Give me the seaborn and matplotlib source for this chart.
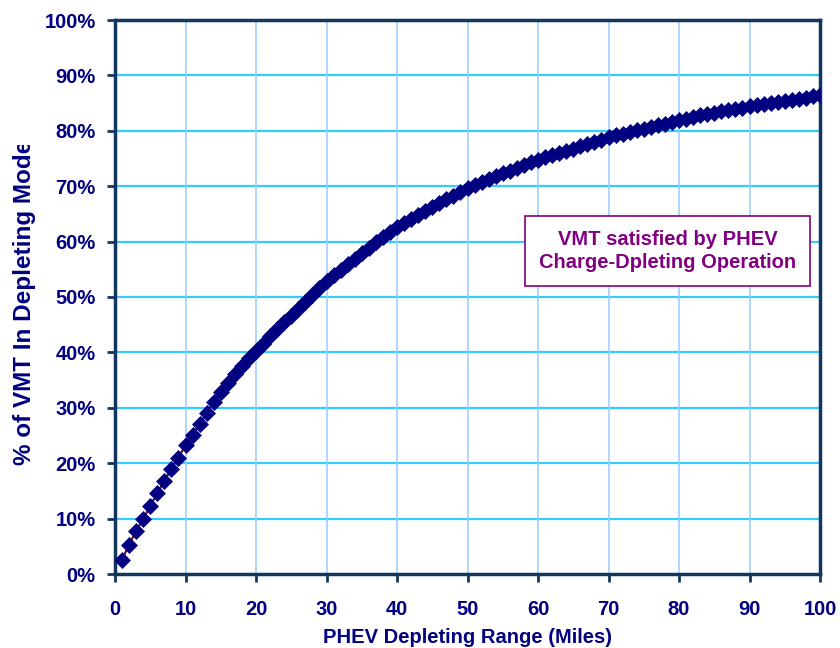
import matplotlib
matplotlib.use("Agg")
import matplotlib.pyplot as plt
import seaborn as sns
import numpy as np
import pandas as pd
from matplotlib.transforms import Bbox

# data: depleting range (miles) vs % of VMT
miles = list(range(1, 101))
vmt_pct = [
    2.6, 5.3, 7.8, 9.9, 12.3, 14.6, 16.8, 19.0, 21.0, 23.3,
    25.1, 27.1, 29.1, 31.0, 32.8, 34.5, 36.1, 37.6, 38.9, 40.2,
    41.6, 43.0, 44.2, 45.4, 46.6, 47.9, 49.1, 50.3, 51.6, 52.9,
    53.9, 54.9, 55.9, 56.9, 57.9, 58.9, 59.9, 60.9, 61.8, 62.7,
    63.4, 64.1, 64.8, 65.5, 66.2, 66.9, 67.6, 68.3, 69.0, 69.7,
    70.3, 70.8, 71.3, 71.8, 72.3, 72.8, 73.3, 73.8, 74.3, 74.8,
    75.2, 75.6, 76.0, 76.4, 76.8, 77.2, 77.6, 78.0, 78.4, 78.8,
    79.2, 79.5, 79.8, 80.1, 80.4, 80.7, 81.0, 81.3, 81.6, 81.9,
    82.2, 82.5, 82.8, 83.0, 83.3, 83.5, 83.7, 84.0, 84.2, 84.4,
    84.6, 84.8, 85.0, 85.2, 85.4, 85.6, 85.8, 86.0, 86.2, 86.5,
]
x_ticks = list(range(0, 101, 10))
y_ticks = list(range(0, 101, 10))
y_ticklabels = [f"{v}%" for v in y_ticks]
note = "VMT satisfied by PHEV\nCharge-Dpleting Operation"

navy = "#000080"
spine_col = "#12375E"
purple = "#800080"

sns.set_theme(style="white")
plt.rcParams["font.family"] = ["Liberation Sans", "DejaVu Sans"]

df = pd.DataFrame({"miles": miles, "vmt": vmt_pct})

fig = plt.figure(figsize=(8.4, 6.48), dpi=100)
ax = fig.add_axes([115 / 840, 74 / 648, 705 / 840, 554 / 648])

sns.lineplot(
    data=df, x="miles", y="vmt", ax=ax,
    color="#800000", linewidth=1.5,
    marker="D", markersize=8.5,
    markerfacecolor=navy, markeredgecolor=navy, markeredgewidth=0.5,
    zorder=3,
)

ax.set_xlim(0, 100)
ax.set_ylim(0, 100)
ax.set_xticks(x_ticks)
ax.set_yticks(y_ticks)
ax.set_yticklabels(y_ticklabels)

# gridlines: cyan horizontals, pale blue verticals
for y in y_ticks[1:-1]:
    ax.axhline(y, color="#33CCFF", linewidth=1.6, zorder=1)
for x in x_ticks[1:-1]:
    ax.axvline(x, color="#99CCFF", linewidth=1.1, zorder=1)

for s in ax.spines.values():
    s.set_visible(True)
    s.set_color(spine_col)
    s.set_linewidth(2.5)

ax.tick_params(axis="both", which="major", direction="out", length=6, width=2,
               color=spine_col, labelsize=14.5, labelcolor=navy,
               bottom=True, left=True)
ax.tick_params(axis="y", pad=8)
ax.tick_params(axis="x", pad=13)
for lbl in ax.get_xticklabels() + ax.get_yticklabels():
    lbl.set_fontweight("bold")

ax.set_xlabel("PHEV Depleting Range (Miles)", fontsize=14.5, fontweight="bold",
              color=navy, labelpad=6)
ylab = ax.set_ylabel("% of VMT In Depleting Mode", fontsize=17.5,
                     fontweight="bold", color=navy)
ax.yaxis.set_label_coords(-0.112, 0.491)
# the original label is cut off near its end
ylab.set_clip_box(Bbox([[0, 0], [200, 503]]))
ylab.set_clip_on(True)

ax.text(78.4, 58.3, note, ha="center", va="center", color=purple,
        fontsize=14.5, fontweight="bold", linespacing=1.3, zorder=5,
        bbox=dict(boxstyle="square,pad=0.7", fc="white", ec=purple, lw=1.2))

fig.savefig("out.png", dpi=100)
